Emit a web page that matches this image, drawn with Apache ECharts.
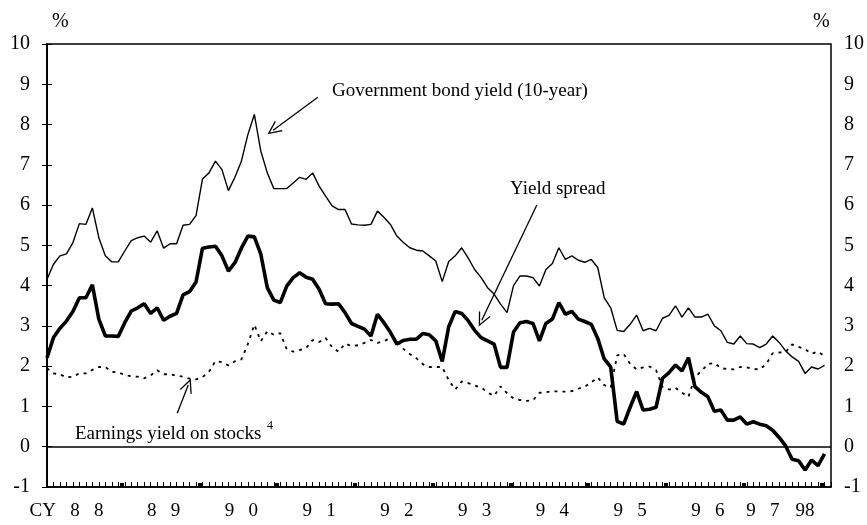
<!DOCTYPE html>
<html>
<head>
<meta charset="utf-8">
<script src="https://cdn.jsdelivr.net/npm/echarts@6/dist/echarts.min.js"></script>
<style>
  html, body { margin: 0; padding: 0; background: #fff; }
  #chart { width: 867px; height: 525px; }
</style>
</head>
<body>
<div id="chart"></div>
<script>
// Monthly observations, January 1988 (index 0) to January 1998 (index 120), in percent.
const bondYield = [
  4.16, 4.53, 4.74, 4.79, 5.07, 5.54, 5.52, 5.93, 5.19, 4.74, 4.59, 4.59,
  4.86, 5.12, 5.19, 5.23, 5.08, 5.36, 4.93, 5.04, 5.04, 5.50, 5.52, 5.74,
  6.65, 6.80, 7.09, 6.88, 6.36, 6.69, 7.09, 7.75, 8.25, 7.34, 6.80, 6.41,
  6.41, 6.41, 6.55, 6.69, 6.64, 6.80, 6.47, 6.22, 5.98, 5.89, 5.89, 5.53,
  5.51, 5.50, 5.52, 5.85, 5.70, 5.52, 5.23, 5.07, 4.94, 4.88, 4.86, 4.74,
  4.61, 4.10, 4.60, 4.74, 4.94, 4.69, 4.40, 4.20, 3.95, 3.79, 3.54, 3.33,
  4.00, 4.24, 4.24, 4.20, 3.99, 4.40, 4.55, 4.94, 4.65, 4.74, 4.63, 4.58,
  4.65, 4.45, 3.70, 3.45, 2.89, 2.86, 3.04, 3.27, 2.88, 2.94, 2.88, 3.19,
  3.26, 3.50, 3.22, 3.45, 3.22, 3.22, 3.29, 3.00, 2.88, 2.59, 2.55, 2.75,
  2.56, 2.55, 2.46, 2.55, 2.75, 2.59, 2.38, 2.23, 2.12, 1.82, 1.98, 1.93,
  2.02
];
const yieldSpread = [
  2.21, 2.71, 2.94, 3.12, 3.36, 3.70, 3.70, 4.02, 3.17, 2.75, 2.75, 2.74,
  3.08, 3.37, 3.45, 3.55, 3.31, 3.45, 3.14, 3.24, 3.31, 3.77, 3.85, 4.09,
  4.93, 4.96, 4.98, 4.74, 4.36, 4.57, 4.93, 5.23, 5.21, 4.78, 3.95, 3.64,
  3.58, 3.99, 4.20, 4.32, 4.21, 4.16, 3.91, 3.55, 3.54, 3.55, 3.33, 3.06,
  2.99, 2.92, 2.75, 3.29, 3.08, 2.84, 2.55, 2.64, 2.67, 2.67, 2.81, 2.78,
  2.63, 2.12, 2.98, 3.36, 3.31, 3.13, 2.89, 2.71, 2.63, 2.55, 1.97, 1.97,
  2.85, 3.08, 3.11, 3.06, 2.63, 3.06, 3.17, 3.58, 3.29, 3.36, 3.17, 3.11,
  3.04, 2.69, 2.18, 1.98, 0.63, 0.56, 0.98, 1.37, 0.91, 0.93, 0.98, 1.70,
  1.84, 2.03, 1.88, 2.21, 1.49, 1.35, 1.24, 0.88, 0.91, 0.66, 0.66, 0.74,
  0.56, 0.62, 0.56, 0.52, 0.41, 0.23, 0.02, -0.31, -0.35, -0.58, -0.33, -0.47,
  -0.18
];
const earningsYield = [
  1.95, 1.82, 1.80, 1.72, 1.74, 1.82, 1.82, 1.91, 1.98, 1.98, 1.86, 1.85,
  1.78, 1.75, 1.74, 1.70, 1.77, 1.90, 1.80, 1.80, 1.76, 1.74, 1.69, 1.67,
  1.73, 1.86, 2.13, 2.10, 2.02, 2.12, 2.17, 2.55, 3.03, 2.62, 2.87, 2.78,
  2.82, 2.42, 2.36, 2.40, 2.45, 2.65, 2.60, 2.70, 2.47, 2.36, 2.56, 2.50,
  2.52, 2.58, 2.65, 2.58, 2.62, 2.70, 2.68, 2.43, 2.30, 2.20, 2.05, 1.98,
  1.98, 1.98, 1.65, 1.42, 1.62, 1.58, 1.52, 1.47, 1.35, 1.26, 1.50, 1.33,
  1.20, 1.16, 1.14, 1.15, 1.34, 1.35, 1.38, 1.37, 1.37, 1.38, 1.44, 1.49,
  1.60, 1.72, 1.53, 1.47, 2.27, 2.30, 2.06, 1.92, 1.97, 1.99, 1.90, 1.49,
  1.42, 1.46, 1.34, 1.24, 1.73, 1.88, 2.05, 2.08, 1.95, 1.93, 1.92, 1.98,
  1.97, 1.93, 1.92, 2.05, 2.32, 2.34, 2.35, 2.54, 2.48, 2.42, 2.31, 2.36,
  2.25
];

// Calendar-year labels and the month index each is centred on
const yearLabels = ['CY   8   8', '8   9', '9   0', '9   1', '9   2', '9   3', '9   4', '9   5', '9   6', '9   7', '98'];
const yearLabelAt = [3, 18, 30, 42, 54, 66, 78, 90, 102, 110.5, 117];
// Year boundaries fall between December and January
const yearBreaks = [11.5, 23.5, 35.5, 47.5, 59.5, 71.5, 83.5, 95.5, 107.5, 119.5];

const FONT = '"Liberation Serif", "Times New Roman", serif';
const pairs = arr => arr.map((v, i) => [i, v]);

// open chevron used as arrowhead
const chevron = 'path://M0,12 L5,0 L10,12 L8.9,12 L5,2.6 L1.1,12 Z';

const chart = echarts.init(document.getElementById('chart'), null, { renderer: 'canvas' });

const yAxisBase = {
  type: 'value', min: -1, max: 10, interval: 1,
  axisLine: { show: true, lineStyle: { color: '#000', width: 1.5 } },
  axisTick: { show: true, inside: true, length: 5, lineStyle: { color: '#000', width: 1 } },
  splitLine: { show: false },
  axisLabel: { color: '#000', fontFamily: FONT, fontSize: 20 }
};

chart.setOption({
  animation: false,
  backgroundColor: '#fff',
  grid: { left: 47, right: 36, top: 44, bottom: 38, show: true, borderColor: '#000', borderWidth: 1.5 },
  xAxis: [
    {
      type: 'value', min: 0, max: 121, interval: 1,
      axisLine: { show: true, onZero: false, lineStyle: { color: '#000', width: 1.5 } },
      axisTick: { show: true, inside: true, length: 5, lineStyle: { color: '#000', width: 1 } },
      axisLabel: { show: false },
      splitLine: { show: false }
    },
    {
      type: 'value', min: 0, max: 121, position: 'bottom',
      axisLine: { show: false, onZero: false },
      axisTick: { show: true, inside: true, length: 4, customValues: yearBreaks, lineStyle: { color: '#000', width: 4 } },
      axisLabel: {
        show: true, customValues: yearLabelAt, margin: 15,
        color: '#000', fontFamily: FONT, fontSize: 19,
        formatter: v => yearLabels[yearLabelAt.indexOf(v)]
      },
      splitLine: { show: false }
    }
  ],
  yAxis: [
    Object.assign({}, yAxisBase, { position: 'left', axisLabel: Object.assign({}, yAxisBase.axisLabel, { margin: 17 }) }),
    Object.assign({}, yAxisBase, { position: 'right', axisLabel: Object.assign({}, yAxisBase.axisLabel, { margin: 13 }) })
  ],
  series: [
    {
      name: 'Government bond yield (10-year)', type: 'line', data: pairs(bondYield),
      showSymbol: false, silent: true,
      lineStyle: { color: '#000', width: 1.4 },
      markLine: {
        silent: true, animation: false,
        label: { show: false },
        lineStyle: { color: '#000', width: 1.3, type: 'solid' },
        symbol: ['none', chevron], symbolSize: [13, 14],
        data: [
          [{ coord: [41.8, 8.68] }, { coord: [34.9, 7.86] }],
          [{ coord: [75.6, 6.0] }, { coord: [67.1, 3.14] }],
          [{ coord: [20.1, 0.83] }, { coord: [21.8, 1.53] }]
        ]
      }
    },
    {
      name: 'Yield spread', type: 'line', data: pairs(yieldSpread),
      showSymbol: false, silent: true,
      lineStyle: { color: '#000', width: 3.6 },
      markLine: {
        silent: true, animation: false, symbol: 'none',
        label: { show: false },
        lineStyle: { color: '#000', width: 1.5, type: 'solid' },
        data: [{ yAxis: 0 }]
      }
    },
    {
      name: 'Earnings yield on stocks', type: 'line', data: pairs(earningsYield),
      showSymbol: false, silent: true,
      lineStyle: { color: '#000', width: 1.8, type: [3, 5] }
    }
  ],
  graphic: [
    { type: 'text', left: 52, top: 12, style: { text: '%', font: '20px ' + FONT, fill: '#000' } },
    { type: 'text', left: 813, top: 12, style: { text: '%', font: '20px ' + FONT, fill: '#000' } },
    { type: 'text', x: 332, y: 91, style: { text: 'Government bond yield (10-year)', font: '19px ' + FONT, fill: '#000', verticalAlign: 'middle' } },
    { type: 'text', x: 510, y: 189, style: { text: 'Yield spread', font: '19px ' + FONT, fill: '#000', verticalAlign: 'middle' } },
    { type: 'text', x: 75, y: 434, style: { text: 'Earnings yield on stocks', font: '19px ' + FONT, fill: '#000', verticalAlign: 'middle' } },
    { type: 'text', x: 267, y: 426, style: { text: '4', font: '12px ' + FONT, fill: '#000', verticalAlign: 'middle' } }
  ]
});
</script>
</body>
</html>
